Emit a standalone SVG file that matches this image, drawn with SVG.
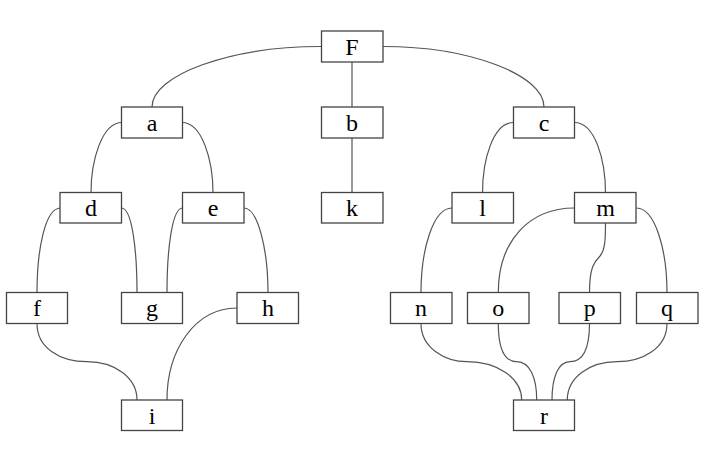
<svg xmlns="http://www.w3.org/2000/svg" width="713" height="452" viewBox="0 0 713 452">
<style>
.n rect{fill:#fff;stroke:#444;stroke-width:1.3}
.n text{font-family:"Liberation Serif","Times New Roman",serif;font-size:24px;fill:#000;text-anchor:middle}
#edges path{fill:none;stroke:#555;stroke-width:1.2}
</style>
<rect width="713" height="452" fill="#fff"/>
<g id="edges">
<path d="M321,46.5 C230,46.5 152,75 152,107"/>
<path d="M383,46.5 C470,46.5 544,75 544,107"/>
<path d="M352,62 L352,107"/>
<path d="M352,138 L352,193"/>
<path d="M122,122.5 C102,122.5 91,160 91,193"/>
<path d="M182,122.5 C202,122.5 213,160 213,193"/>
<path d="M513.5,122.5 C493,122.5 482.5,160 482.5,193"/>
<path d="M574.5,122.5 C595,122.5 605.5,160 605.5,193"/>
<path d="M60.5,208 C45,208 37,250 37,292.5"/>
<path d="M121.5,208 C132,208 137,250 137,292.5"/>
<path d="M182.5,208 C172,208 167,250 167,292.5"/>
<path d="M244,208 C258,208 268,250 268,292.5"/>
<path d="M37,323.5 C37,348 60,361.7 87,361.7 C115,361.7 137,378 137,400"/>
<path d="M237,308 C195,308 167,350 167,400"/>
<path d="M452,208 C433,208 421,250 421,292.5"/>
<path d="M574.5,208 C530,208 498.3,240 498.3,292.5"/>
<path d="M605.5,223 C605.5,240 605,250 600,256 C594,262 589.5,268 589.5,292.5"/>
<path d="M636.5,208 C655,208 667,250 667,292.5"/>
<path d="M421,323.5 C421,348 445,361.7 467,361.7 C497,361.7 521.7,378 521.7,400"/>
<path d="M498.3,323.5 C498.3,350 505,361.7 516.7,361.7 C530,361.7 536.7,378 536.7,400"/>
<path d="M589.5,323.5 C589.5,350 582,361.7 570,361.7 C558,361.7 552,378 552,400"/>
<path d="M667,323.5 C667,348 643,361.7 617,361.7 C589,361.7 567.3,378 567.3,400"/>
</g>
<g id="F" class="n"><rect x="321.5" y="31" width="61.5" height="31"/><text x="352" y="54.5">F</text></g>
<g id="a" class="n"><rect x="121.5" y="107" width="61" height="31"/><text x="152" y="130.5">a</text></g>
<g id="b" class="n"><rect x="321.5" y="107" width="61.5" height="31"/><text x="352" y="130.5">b</text></g>
<g id="c" class="n"><rect x="513.5" y="107" width="61" height="31"/><text x="544" y="130.5">c</text></g>
<g id="d" class="n"><rect x="60" y="192.5" width="61.5" height="30.5"/><text x="91" y="215.5">d</text></g>
<g id="e" class="n"><rect x="182.5" y="192.5" width="61.5" height="30.5"/><text x="213" y="215.5">e</text></g>
<g id="k" class="n"><rect x="321.5" y="192.5" width="61.5" height="30.5"/><text x="352" y="215.5">k</text></g>
<g id="l" class="n"><rect x="452" y="192.5" width="61.5" height="30.5"/><text x="482.5" y="215.5">l</text></g>
<g id="m" class="n"><rect x="574.5" y="192.5" width="61.5" height="30.5"/><text x="605.5" y="215.5">m</text></g>
<g id="f" class="n"><rect x="6.5" y="292.5" width="61" height="31"/><text x="37" y="316">f</text></g>
<g id="g" class="n"><rect x="121.5" y="292.5" width="61" height="31"/><text x="152" y="316">g</text></g>
<g id="h" class="n"><rect x="237" y="292.5" width="61.5" height="31"/><text x="268" y="316">h</text></g>
<g id="n" class="n"><rect x="390.5" y="292.5" width="61.5" height="31"/><text x="421" y="316">n</text></g>
<g id="o" class="n"><rect x="467.5" y="292.5" width="61.5" height="31"/><text x="498.3" y="316">o</text></g>
<g id="p" class="n"><rect x="559" y="292.5" width="61.5" height="31"/><text x="589.7" y="316">p</text></g>
<g id="q" class="n"><rect x="636.5" y="292.5" width="61.5" height="31"/><text x="667" y="316">q</text></g>
<g id="i" class="n"><rect x="121.5" y="400" width="61" height="30.5"/><text x="152" y="423.5">i</text></g>
<g id="r" class="n"><rect x="513.5" y="400" width="61" height="30.5"/><text x="544" y="423.5">r</text></g>
</svg>
